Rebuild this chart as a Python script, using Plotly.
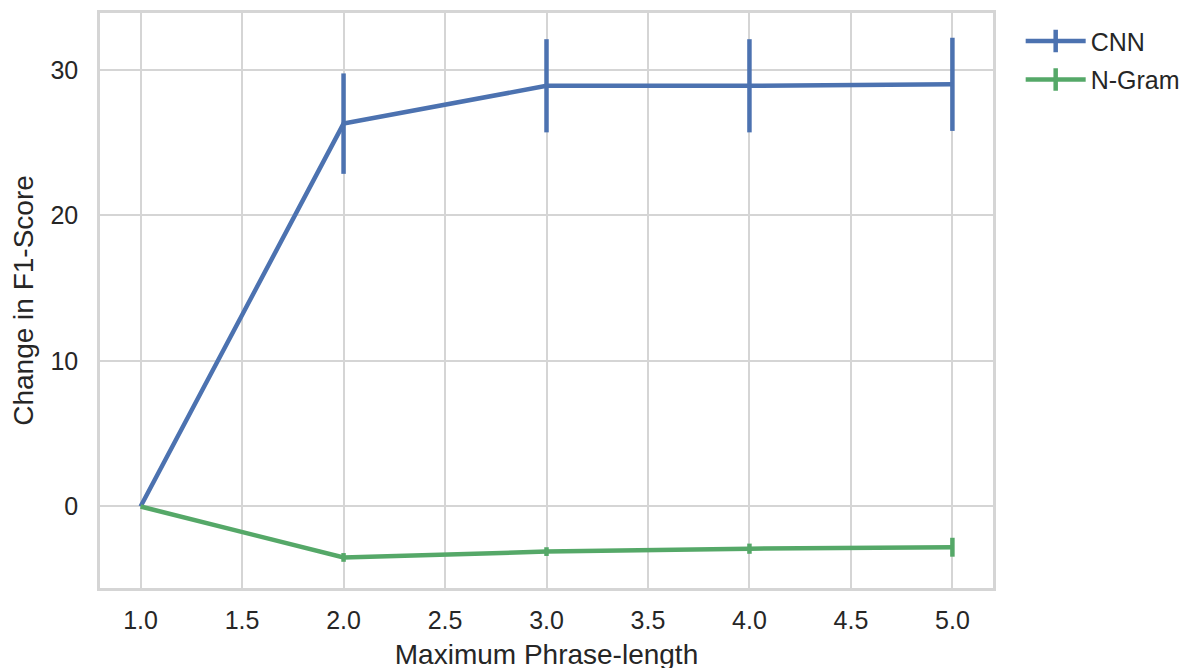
import plotly.graph_objects as go

phrase_len = [1.0, 2.0, 3.0, 4.0, 5.0]
cnn = [0.0, 26.3, 28.9, 28.9, 29.0]
cnn_err = [0.0, 3.45, 3.2, 3.2, 3.2]
ngram = [0.0, -3.5, -3.1, -2.9, -2.8]
ngram_err = [0.0, 0.3, 0.3, 0.35, 0.65]
series_names = ["CNN", "N-Gram"]
colors = ["#4c72b0", "#55a868"]
x_ticks = [1.0, 1.5, 2.0, 2.5, 3.0, 3.5, 4.0, 4.5, 5.0]
y_ticks = [0, 10, 20, 30]

fig = go.Figure()
for name, y, err, c in zip(series_names, [cnn, ngram], [cnn_err, ngram_err], colors):
    fig.add_trace(go.Scatter(
        x=phrase_len, y=y, mode="lines", name=name, legendgroup=name, showlegend=False,
        line=dict(color=c, width=4.5),
        error_y=dict(type="data", array=err, visible=True, color=c, thickness=4.5, width=0),
    ))
    fig.add_trace(go.Scatter(
        x=[None], y=[None], mode="lines+markers", name=name, legendgroup=name,
        line=dict(color=c, width=4.5),
        marker=dict(symbol="line-ns", size=26, line=dict(color=c, width=4.5)),
    ))

grid = "#d5d5d5"
fig.update_layout(
    width=1201, height=668,
    margin=dict(l=92, r=216, t=2, b=88),
    paper_bgcolor="white", plot_bgcolor="white",
    font=dict(family="Liberation Sans, Arial, sans-serif", size=25, color="#262626"),
    legend=dict(x=1.031, y=0.991, xanchor="left", yanchor="top", font=dict(size=25),
                bgcolor="rgba(0,0,0,0)", itemwidth=60, tracegroupgap=3),
    xaxis=dict(range=[0.8, 5.2], tickmode="array", tickvals=x_ticks,
               ticktext=[f"{v:.1f}" for v in x_ticks],
               showgrid=True, gridcolor=grid, gridwidth=2, zeroline=False,
               showline=True, mirror=True, linecolor=grid, linewidth=2.5,
               ticks="", ticklabelstandoff=8,
               title=dict(text="Maximum Phrase-length", standoff=12, font=dict(size=28))),
    yaxis=dict(range=[-5.6, 33.9], tickvals=y_ticks,
               showgrid=True, gridcolor=grid, gridwidth=2, zeroline=False,
               showline=True, mirror=True, linecolor=grid, linewidth=2.5,
               ticks="", ticklabelstandoff=14,
               title=dict(text="Change in F1-Score", standoff=12, font=dict(size=28))),
)

fig.write_html("out.html")
